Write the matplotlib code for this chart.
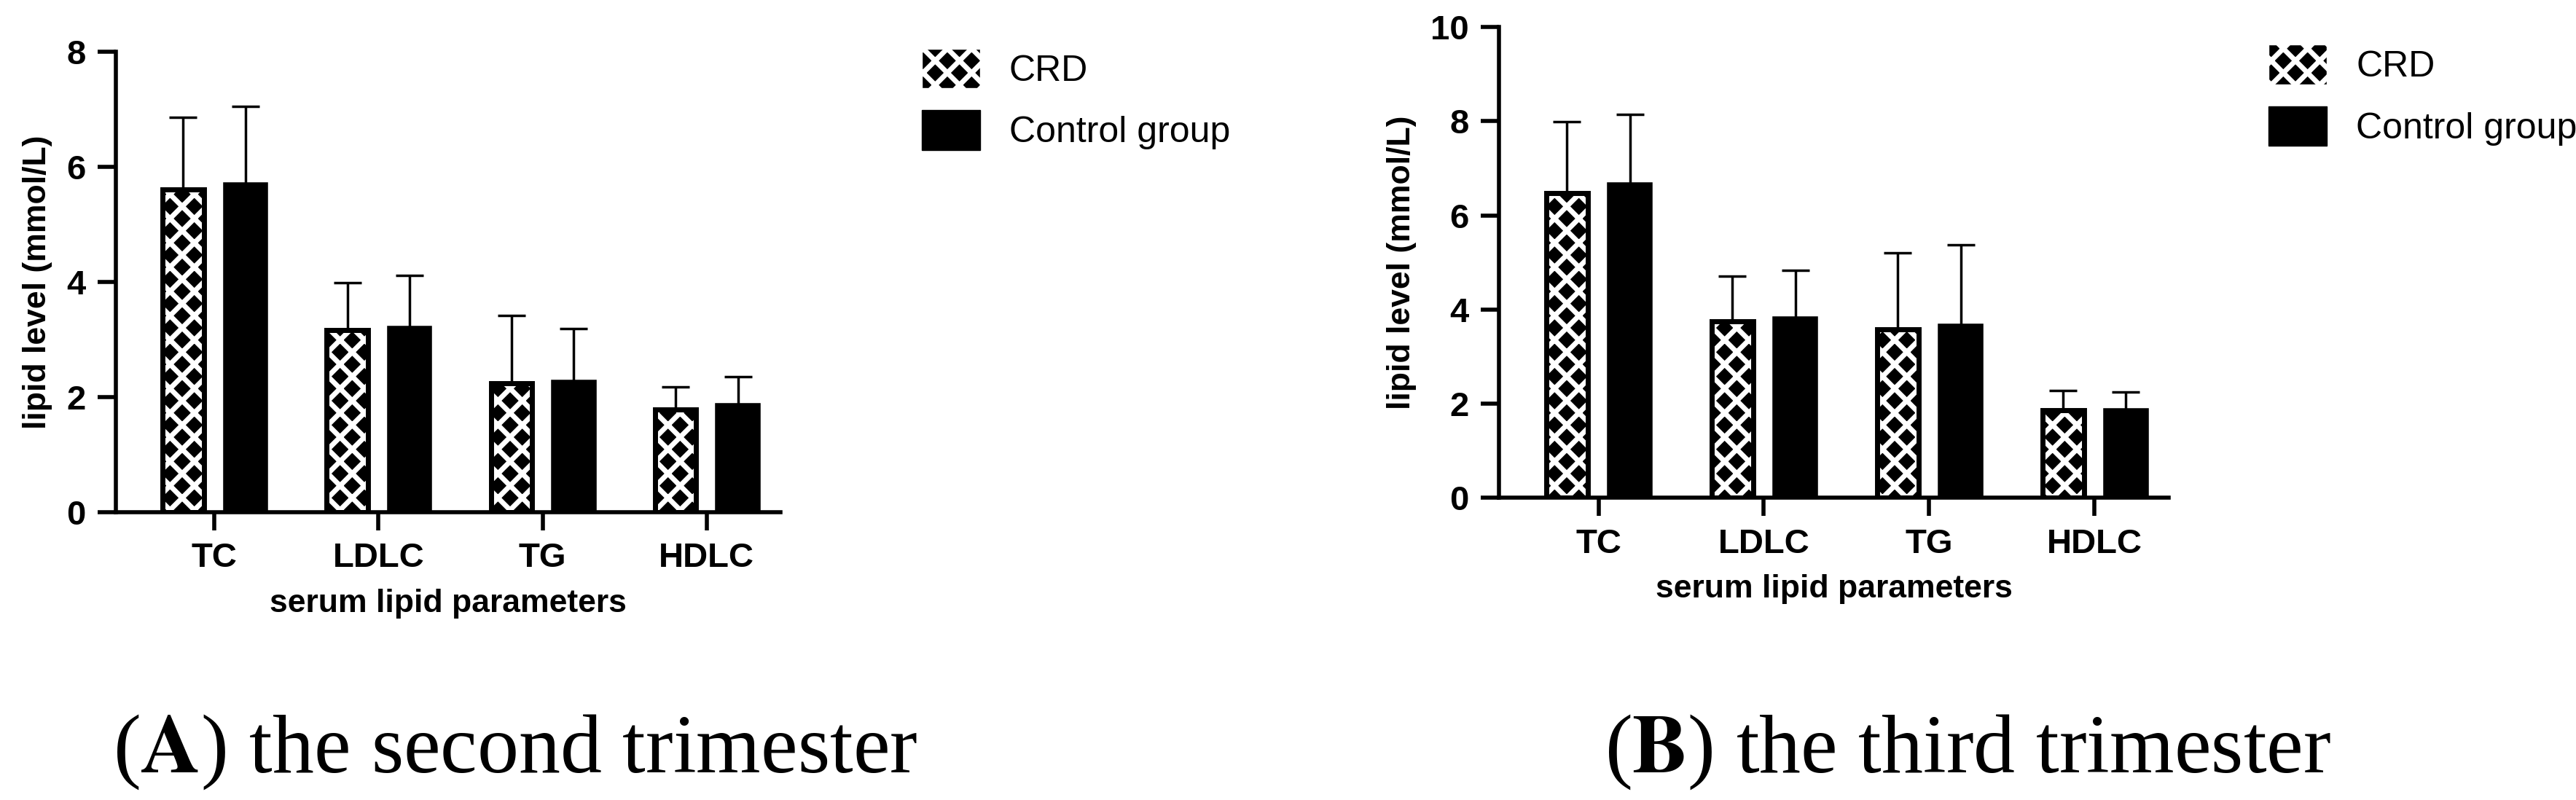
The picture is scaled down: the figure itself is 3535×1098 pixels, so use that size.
import matplotlib
matplotlib.use("Agg")
import matplotlib.pyplot as plt
import numpy as np
from matplotlib.patches import Patch

categories = ["TC", "LDLC", "TG", "HDLC"]
a_crd = [5.61, 3.16, 2.24, 1.78]
a_crd_err = [1.26, 0.83, 1.18, 0.40]
a_ctl = [5.70, 3.20, 2.26, 1.86]
a_ctl_err = [1.35, 0.92, 0.93, 0.49]
b_crd = [6.48, 3.75, 3.57, 1.86]
b_crd_err = [1.51, 0.96, 1.63, 0.42]
b_ctl = [6.66, 3.81, 3.65, 1.86]
b_ctl_err = [1.48, 1.02, 1.73, 0.39]

plt.rcParams['font.family'] = ['Liberation Sans', 'DejaVu Sans']
plt.rcParams['hatch.linewidth'] = 5.0
fig = plt.figure(figsize=(35.35, 10.98), dpi=100)

def panel(rect, crd, crde, ctl, ctle, ymax, legpos, caption, capx, letter):
    ax = fig.add_axes(rect)
    x = np.arange(len(categories))
    w = 0.25
    off = 0.19
    ax.bar(x - off, crd, w, color='black', edgecolor='white', hatch='x', linewidth=0, zorder=2)
    ax.bar(x - off, crd, w, color='none', edgecolor='black', linewidth=5, zorder=3)
    ax.bar(x + off, ctl, w, color='black', edgecolor='black', linewidth=4, zorder=3)
    ax.errorbar(x - off, crd, yerr=[np.zeros(4), crde], fmt='none', ecolor='black', elinewidth=2.5, capsize=14, capthick=2.5, zorder=1)
    ax.errorbar(x + off, ctl, yerr=[np.zeros(4), ctle], fmt='none', ecolor='black', elinewidth=2.5, capsize=14, capthick=2.5, zorder=1)
    ax.set_xlim(-0.6, 3.45)
    ax.set_ylim(0, ymax)
    ax.set_yticks(np.arange(0, ymax + 1, 2))
    ax.set_xticks(x)
    ax.set_xticklabels(categories)
    for s in ['top', 'right']:
        ax.spines[s].set_visible(False)
    for s in ['left', 'bottom']:
        ax.spines[s].set_linewidth(4)
    ax.tick_params(axis='both', width=4, length=18, labelsize=34, pad=12)
    for t in ax.get_xticklabels() + ax.get_yticklabels():
        t.set_fontweight('bold')
    ax.set_ylabel('lipid level (mmol/L)', fontsize=32, fontweight='bold', labelpad=14)
    ax.set_xlabel('serum lipid parameters', fontsize=32, fontweight='bold', labelpad=14)
    h1 = Patch(facecolor='black', edgecolor='white', hatch='x')
    h2 = Patch(facecolor='black', edgecolor='black')
    fig.legend([h1, h2], ['CRD', 'Control group'], loc='upper left', bbox_to_anchor=legpos,
               frameon=False, fontsize=36, handlelength=1.6, handleheight=1.3, labelspacing=0.6)
    fig.text(capx, 0.06, r'($\mathbf{' + letter + r'}$) ' + caption, ha='center', va='center',
             fontsize=82, family='Liberation Serif', math_fontfamily='stix')
    return ax

panel([0.045, 0.36, 0.258, 0.575], a_crd, a_crd_err, a_ctl, a_ctl_err, 8, (0.345, 0.98), 'the second trimester', 0.2, 'A')
panel([0.582, 0.378, 0.26, 0.588], b_crd, b_crd_err, b_ctl, b_ctl_err, 10, (0.868, 0.985), 'the third trimester', 0.764, 'B')

fig.savefig('out.png', dpi=100)
